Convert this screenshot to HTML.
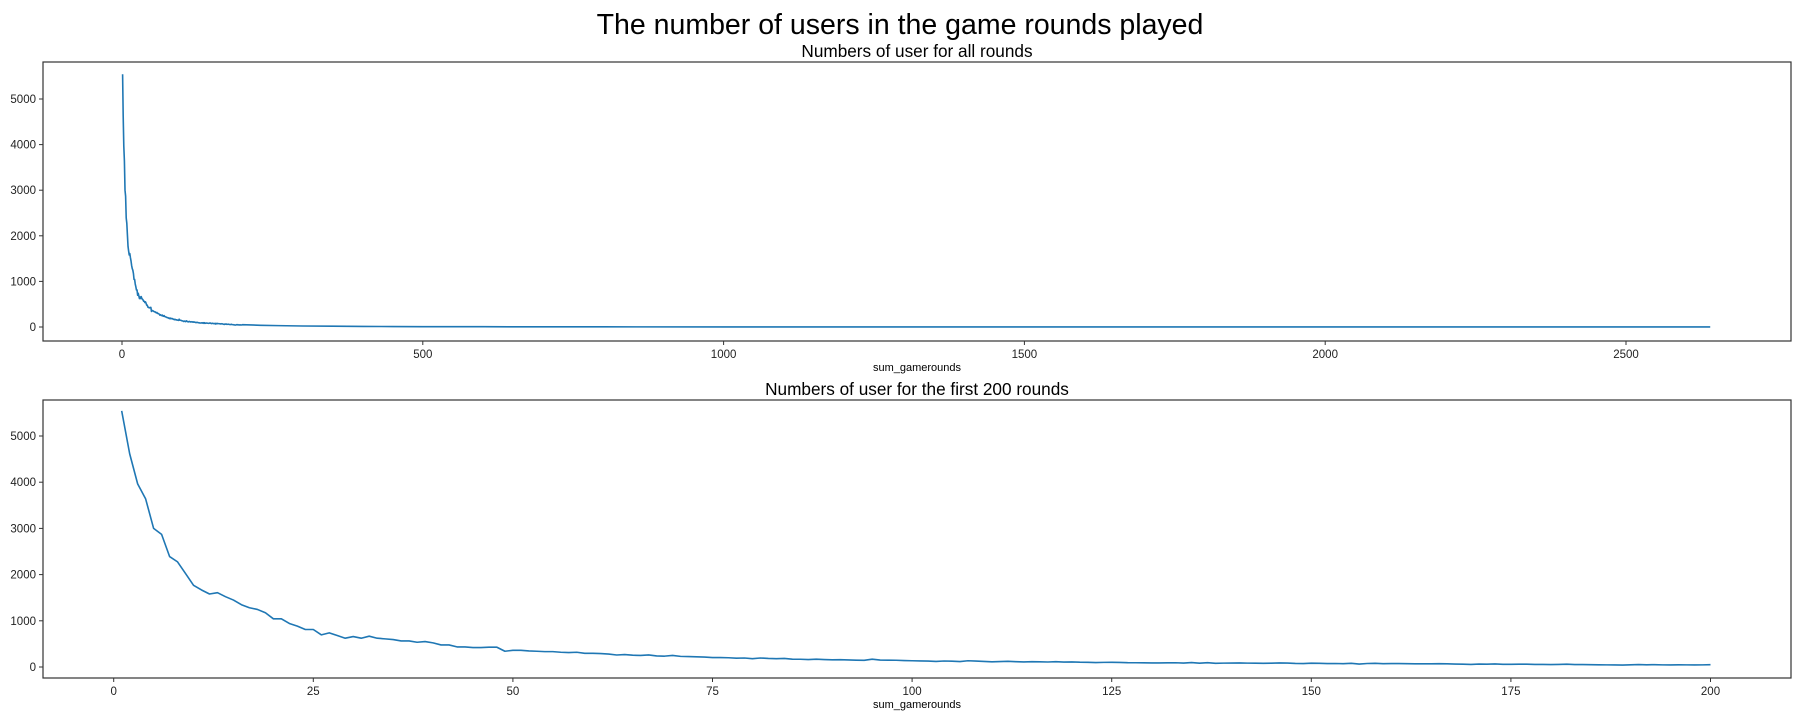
<!DOCTYPE html>
<html><head><meta charset="utf-8">
<style>
html,body{margin:0;padding:0;background:#fff;}
svg{display:block;font-family:"Liberation Sans","DejaVu Sans",sans-serif;}
</style></head>
<body>
<svg id="fig" width="1800" height="720" viewBox="0 0 1800 720" xmlns="http://www.w3.org/2000/svg">
<rect width="1800" height="720" fill="#fff"/>
<text x="900" y="34" font-size="28.5" text-anchor="middle" fill="#000">The number of users in the game rounds played</text>
<text x="917" y="57" font-size="17.2" text-anchor="middle" fill="#000">Numbers of user for all rounds</text>
<text x="917" y="395" font-size="17.2" text-anchor="middle" fill="#000">Numbers of user for the first 200 rounds</text>
<g id="top"></g>
<g id="bottom"></g>
</svg>
<script>
// first 200 rounds: user counts for rounds 1..200
const rounds200 = [];
const users200 = [5543,4616,3964,3638,3000,2870,2391,2275,2022,1768,1667,1580,1609,1522,1449,1348,1283,1246,1174,1043,
1043,942,884,812,812,696,739,681,623,659,623,667,623,609,594,565,565,536,551,522,
478,478,435,435,420,420,428,428,341,362,362,348,341,333,333,319,312,319,297,297,
290,280,260,270,255,250,262,240,235,250,230,225,220,215,205,205,200,190,195,180,
195,185,180,185,170,168,160,170,162,155,158,152,148,145,170,150,148,146,140,135,
132,128,120,130,125,118,135,128,120,112,118,122,115,110,116,112,108,115,106,110,
104,102,96,100,102,98,93,92,90,88,87,90,92,85,95,82,94,80,84,86,
88,84,82,79,82,88,86,78,75,82,80,74,76,72,80,64,76,80,72,74,
74,71,70,68,69,72,68,64,60,56,64,62,66,58,58,60,62,56,55,53,
56,60,52,52,50,47,46,44,42,48,52,48,50,46,44,48,46,44,46,50];
for (let i = 1; i <= 200; i++) rounds200.push(i);
// tail for all rounds (sparse readings beyond 200)
const tailRounds = [230,260,300,350,400,450,500,600,700,800,1000,1200,1500,1800,2000,2300,2640];
const tailUsers = [38,30,22,17,13,10,8,6,4,3,2,2,1,1,1,1,1];
const topXTicks = [0,500,1000,1500,2000,2500];
const bottomXTicks = [0,25,50,75,100,125,150,175,200];
const yTicks = [0,1000,2000,3000,4000,5000];

const NS = "http://www.w3.org/2000/svg";
function mk(parent, tag, attrs){const e=document.createElementNS(NS,tag);for(const k in attrs)e.setAttribute(k,attrs[k]);parent.appendChild(e);return e;}

function drawChart(g, box, xs, ys, xTicks, prefix){
  const X = v => box.x0px + (v - box.xmin)*(box.x1px - box.x0px)/(box.xmax - box.xmin);
  const Y = v => box.y0px + (v)*(box.y5px - box.y0px)/5000;
  const fr = mk(g,'rect',{x:box.L,y:box.T,width:box.R-box.L,height:box.B-box.T,fill:'none',stroke:'#333','stroke-width':1.2});
  
  
  let d='';
  xs.forEach((x,i)=>{d+=(i?'L':'M')+X(x).toFixed(2)+','+Y(ys[i]).toFixed(2);});
  const p = mk(g,'path',{d:d,fill:'none',stroke:'#1f77b4','stroke-width':1.6,'stroke-linejoin':'round'});
  
  
  xTicks.forEach(t=>{
    const x=X(t);
    const tk=mk(g,'line',{x1:x,x2:x,y1:box.B,y2:box.B+4,stroke:'#333','stroke-width':1});
    
    
    const tx=mk(g,'text',{x:x,y:box.B+17,'font-size':11.5,'text-anchor':'middle',fill:'#222'});
    tx.textContent=t;
    
    
  });
  yTicks.forEach(t=>{
    const y=Y(t);
    const tk=mk(g,'line',{x1:box.L-4,x2:box.L,y1:y,y2:y,stroke:'#333','stroke-width':1});
    
    
    const tx=mk(g,'text',{x:box.L-7,y:y+4,'font-size':11.5,'text-anchor':'end',fill:'#222'});
    tx.textContent=t;
    
    
  });
  const xl=mk(g,'text',{x:(box.L+box.R)/2,y:box.B+30,'font-size':11,'text-anchor':'middle',fill:'#000'});
  xl.textContent='sum_gamerounds';
  
  
}

drawChart(document.getElementById('top'),
  {L:43,R:1791,T:62,B:341,xmin:0,xmax:2500,x0px:122,x1px:1626,y0px:327,y5px:99},
  rounds200.concat(tailRounds), users200.concat(tailUsers), topXTicks, 'top');
drawChart(document.getElementById('bottom'),
  {L:43,R:1791,T:400,B:678,xmin:0,xmax:200,x0px:113.7,x1px:1710.5,y0px:667,y5px:436},
  rounds200, users200, bottomXTicks, 'bottom');
</script>
</body></html>
